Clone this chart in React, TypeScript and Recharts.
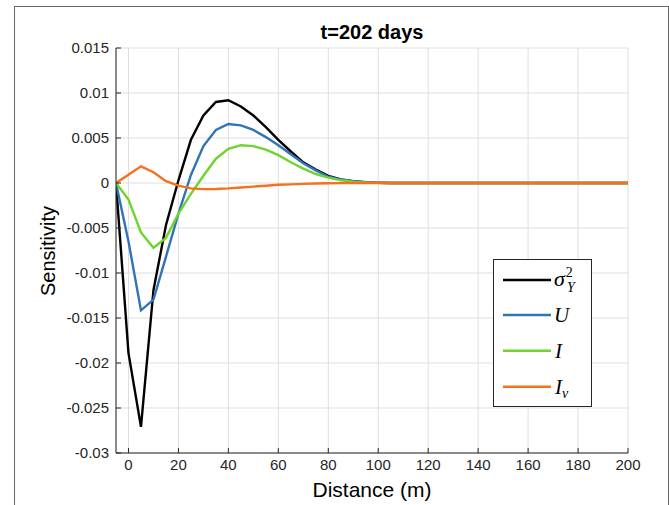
import React from "react";
import {
  LineChart,
  Line,
  XAxis,
  YAxis,
  CartesianGrid,
  Legend,
  Label,
} from "recharts";

// distance (m), one sample every 5 m
const distance = [
  -5, 0, 5, 10, 15, 20, 25, 30, 35, 40, 45, 50, 55, 60, 65, 70, 75, 80, 85, 90,
  95, 100, 105, 110, 115, 120, 125, 130, 135, 140, 145, 150, 155, 160, 165, 170,
  175, 180, 185, 190, 195, 200,
];

const sigmaY2 = [
  0, -0.0189, -0.0271, -0.0119, -0.0047, 0.0003, 0.0048, 0.0075, 0.009, 0.0092,
  0.0085, 0.0075, 0.0062, 0.0048, 0.0035, 0.0023, 0.0015, 0.0008, 0.0004,
  0.0002, 0.00008, 0.00003, 0, 0, 0, 0, 0, 0, 0, 0, 0, 0, 0, 0, 0, 0, 0, 0, 0,
  0, 0, 0,
];

const uVals = [
  0, -0.0065, -0.01415, -0.01296, -0.0082, -0.0034, 0.0009, 0.0041, 0.0059,
  0.00656, 0.0064, 0.0059, 0.0051, 0.0042, 0.0032, 0.0022, 0.0014, 0.0007,
  0.0004, 0.0002, 0.00008, 0.00003, 0, 0, 0, 0, 0, 0, 0, 0, 0, 0, 0, 0, 0, 0, 0,
  0, 0, 0, 0, 0,
];

const iVals = [
  0, -0.00184, -0.0055, -0.0072, -0.0061, -0.0034, -0.0012, 0.0008, 0.0027,
  0.0038, 0.0042, 0.0041, 0.0037, 0.0031, 0.0023, 0.0016, 0.001, 0.0006,
  0.0003, 0.00015, 0.00006, 0.00002, 0, 0, 0, 0, 0, 0, 0, 0, 0, 0, 0, 0, 0, 0,
  0, 0, 0, 0, 0, 0,
];

const ivVals = [
  0, 0.00093, 0.00185, 0.0012, 0.0002, -0.0003, -0.0006, -0.00068, -0.00066,
  -0.0006, -0.0005, -0.0004, -0.0003, -0.0002, -0.00015, -0.0001, -0.00006,
  -0.00003, -0.00001, 0, 0, 0, 0, 0, 0, 0, 0, 0, 0, 0, 0, 0, 0, 0, 0, 0, 0, 0, 0,
  0, 0, 0,
];

const xTicks = [0, 20, 40, 60, 80, 100, 120, 140, 160, 180, 200];
const yTicks = [
  -0.03, -0.025, -0.02, -0.015, -0.01, -0.005, 0, 0.005, 0.01, 0.015,
];

const data = distance.map((d, i) => ({
  d,
  s: sigmaY2[i],
  u: uVals[i],
  i: iVals[i],
  iv: ivVals[i],
}));

const AXIS = "#262626";
const SANS = "'Liberation Sans', Arial, Helvetica, sans-serif";
const SERIF = "'Liberation Serif', 'Times New Roman', serif";

const colors = {
  s: "#000000",
  u: "#3174b6",
  i: "#6fd42e",
  iv: "#f8701d",
};

// bottom x ticks: label + inward tick mark
const XTick = (props: any) => {
  const { x, y, payload } = props;
  return (
    <g>
      <line x1={x} x2={x} y1={y - 6} y2={y - 11} stroke={AXIS} />
      <text x={x} y={y} dy="0.71em" textAnchor="middle" fontSize={15} fontFamily={SANS} fill={AXIS}>
        {payload.value}
      </text>
    </g>
  );
};

const YTick = (props: any) => {
  const { x, y, payload } = props;
  return (
    <g>
      <line x1={x + 7} x2={x + 12} y1={y} y2={y} stroke={AXIS} />
      <text x={x} y={y} dy="0.355em" textAnchor="end" fontSize={15} fontFamily={SANS} fill={AXIS}>
        {payload.value}
      </text>
    </g>
  );
};

const TopTick = (props: any) => {
  const { x, y } = props;
  return <line x1={x} x2={x} y1={y} y2={y + 5} stroke={AXIS} />;
};

const RightTick = (props: any) => {
  const { x, y } = props;
  return <line x1={x} x2={x - 5} y1={y} y2={y} stroke={AXIS} />;
};

const LegendBox = () => {
  const rows = [
    { key: "s", y: 21 },
    { key: "u", y: 56 },
    { key: "i", y: 91.7 },
    { key: "iv", y: 127.7 },
  ];
  return (
    <div
      style={{
        width: 99,
        height: 148,
        boxSizing: "border-box",
        border: `1px solid ${AXIS}`,
        background: "#fff",
      }}
    >
      <svg width={97} height={146} style={{ display: "block" }}>
        {rows.map((r) => (
          <line
            key={r.key}
            x1={9}
            x2={57}
            y1={r.y - 1}
            y2={r.y - 1}
            stroke={(colors as any)[r.key]}
            strokeWidth={2.4}
          />
        ))}
        <g fontFamily={SERIF} fontStyle="italic" fill="#000">
          <text x={60} y={26} fontSize={22}>
            σ
            <tspan dx={1} dy={-9} fontSize={14} fontStyle="normal">2</tspan>
            <tspan x={73} dy={15} fontSize={14}>Y</tspan>
          </text>
          <text x={60} y={62} fontSize={21}>U</text>
          <text x={61} y={98} fontSize={21}>I</text>
          <text x={61} y={134} fontSize={21}>
            I<tspan dx={0} dy={4} fontSize={14}>v</tspan>
          </text>
        </g>
      </svg>
    </div>
  );
};

export default function App() {
  return (
    <div
      style={{
        position: "absolute",
        left: 0,
        top: 0,
        width: 669,
        height: 505,
        background: "#fff",
        overflow: "hidden",
        fontFamily: SANS,
      }}
    >
      {/* figure frame */}
      <div
        style={{
          position: "absolute",
          left: 14,
          top: 6,
          width: 655,
          height: 520,
          boxSizing: "border-box",
          border: "1px solid #666",
        }}
      />
      <div
        style={{
          position: "absolute",
          left: 116,
          width: 512,
          top: 20,
          height: 24,
          lineHeight: "24px",
          textAlign: "center",
          fontWeight: "bold",
          fontSize: 20,
          color: "#000",
        }}
      >
        t=202 days
      </div>
      <LineChart
        width={669}
        height={505}
        data={data}
        margin={{ top: 48, right: 41, left: 0, bottom: 0 }}
        style={{ position: "absolute", left: 0, top: 0 }}
      >
        <CartesianGrid stroke="#dedede" strokeWidth={1} />
        <XAxis
          dataKey="d"
          type="number"
          domain={[-5, 200]}
          ticks={xTicks}
          allowDataOverflow
          height={52}
          tickSize={0}
          tickMargin={6}
          tick={<XTick />}
          axisLine={{ stroke: AXIS }}
          tickLine={false}
        >
          <Label
            value="Distance (m)"
            position="insideBottom"
            offset={8}
            style={{ fontSize: 21, fontFamily: SANS, fill: "#000" }}
          />
        </XAxis>
        <XAxis
          xAxisId="top"
          orientation="top"
          type="number"
          domain={[-5, 200]}
          ticks={xTicks}
          allowDataOverflow
          height={0}
          tickSize={0}
          tickMargin={0}
          tick={<TopTick />}
          tickLine={false}
          axisLine={{ stroke: AXIS }}
        />
        <YAxis
          type="number"
          domain={[-0.03, 0.015]}
          ticks={yTicks}
          allowDataOverflow
          width={116}
          tickSize={0}
          tickMargin={7}
          tick={<YTick />}
          tickLine={false}
          axisLine={{ stroke: AXIS }}
        >
          <Label
            content={() => (
              <text
                x={48}
                y={251}
                transform="rotate(-90 48 251)"
                textAnchor="middle"
                dominantBaseline="central"
                fontSize={20}
                fontFamily={SANS}
                fill="#000"
              >
                Sensitivity
              </text>
            )}
          />
        </YAxis>
        <YAxis
          yAxisId="right"
          orientation="right"
          type="number"
          domain={[-0.03, 0.015]}
          ticks={yTicks}
          allowDataOverflow
          width={0}
          tickSize={0}
          tickMargin={0}
          tick={<RightTick />}
          tickLine={false}
          axisLine={{ stroke: AXIS }}
        />
        <Legend
          layout="vertical"
          align="center"
          verticalAlign="middle"
          content={<LegendBox />}
          wrapperStyle={{ left: 493, top: 259, width: 99, height: 148 }}
        />
        <Line type="linear" dataKey="s" stroke={colors.s} strokeWidth={2.4} dot={false} isAnimationActive={false} />
        <Line type="linear" dataKey="u" stroke={colors.u} strokeWidth={2.4} dot={false} isAnimationActive={false} />
        <Line type="linear" dataKey="i" stroke={colors.i} strokeWidth={2.4} dot={false} isAnimationActive={false} />
        <Line type="linear" dataKey="iv" stroke={colors.iv} strokeWidth={2.4} dot={false} isAnimationActive={false} />
      </LineChart>
    </div>
  );
}
